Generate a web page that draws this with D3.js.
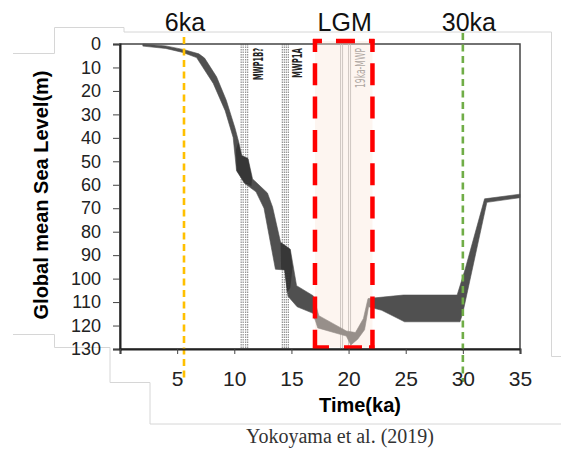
<!DOCTYPE html>
<html>
<head>
<meta charset="UTF-8" />
<style>
  body, html { margin: 0; padding: 0; background: #fff; overflow: hidden; }
  svg text { font-family: "Liberation Sans", Arial, sans-serif; }
</style>
</head>
<body>
<svg id="chart" width="561" height="449"></svg>
<script src="https://cdn.jsdelivr.net/npm/d3@7/dist/d3.min.js"></script>
<script>
// ---- data (age in ka, depth below present in m) ----
const xTicks = [0, 5, 10, 15, 20, 25, 30, 35];
const yTicks = [0, 10, 20, 30, 40, 50, 60, 70, 80, 90, 100, 110, 120, 130];

// shallow edge of the sea-level envelope
const upperEdge = [
  [2.0, 0], [4.0, 0.8], [5.6, 2.4], [6.9, 4.2], [7.4, 6], [8.45, 14], [9.3, 24],
  [10.06, 35.8], [10.4, 42], [10.65, 47.5], [11.2, 48.8], [11.6, 57.5], [12.9, 63.5],
  [13.35, 69.5], [14.05, 84.5], [14.9, 87.5], [15.45, 103], [16.9, 107.3], [17.4, 115.8],
  [19.8, 122.3], [20.6, 123], [21.3, 117], [21.7, 108.5], [24.8, 107], [29.5, 107],
  [30.2, 96], [31.9, 66], [35, 64]
];
// deep edge of the sea-level envelope
const lowerEdge = [
  [2.0, 0.9], [4.0, 1.9], [5.5, 3.6], [6.7, 5.8], [8.16, 16.8], [9.2, 28.4], [9.9, 39.8],
  [10.2, 54], [10.9, 59.4], [11.9, 63], [12.6, 70], [13.6, 96], [14.4, 96.3], [14.7, 107.5],
  [15.5, 112], [16.9, 114.8], [17.3, 121], [19.8, 124.5], [20.2, 128.3], [20.8, 125.8],
  [21.4, 121.8], [21.75, 112], [22.9, 113.5], [24.9, 118.4], [29.75, 118.4], [30.0, 114.5],
  [32.1, 67.5], [35, 65.5]
];
// darker overlapping patches of the envelope
const darkPatchA = [[10.35, 42], [10.65, 47.5], [11.2, 48.8], [11.55, 57], [11.5, 60.5], [10.9, 59.4], [10.2, 54], [10.15, 45]];
const darkPatchB = [[14.05, 84.5], [14.9, 87.5], [15.1, 95], [14.9, 104], [14.6, 106], [14.4, 96.3], [14.1, 96]];

// meltwater pulse markers
const mwpLabels = ["MWP1B?", "MWP1A", "19ka-MWP"];
const mwpLines = [[10.6, 11.0], [14.2, 14.55], [19.3, 20.0]];
const mwpLabelAge = [12.5, 15.95, 21.4];
const mwpLabelLen = [32, 30, 40];

// highlighted periods
const markerLabels = ["6ka", "30ka"];
const markerAges = [5.6, 30.0];
const markerColors = ["#ffc000", "#70ad47"];
const lgmRange = [17.06, 22.09];

// ---- layout ----
const svg = d3.select("#chart");
const x = d3.scaleLinear().domain([0, 35]).range([120, 520]);
const y = d3.scaleLinear().domain([0, 130]).range([44, 349]);

// faint outline left over from the pasted figure
const ghost = svg.append("g").attr("fill", "none").attr("stroke", "#d6d6d6").attr("stroke-width", 1);
ghost.append("path").attr("d", "M13,53.5H54.5V27.5H124V32H551.5V356.5H561");
ghost.append("path").attr("d", "M13,334.5H54.5V347.5H110V382.5H150V424H561");

// plot frame
svg.append("rect")
  .attr("x", x(0)).attr("y", y(0))
  .attr("width", x(35) - x(0)).attr("height", y(130) - y(0))
  .attr("fill", "#fff").attr("stroke", "#444").attr("stroke-width", 1.5);

// MWP dotted line pairs
const mwp = svg.append("g");
mwpLines.forEach((pair, i) => {
  pair.forEach(a => {
    [0, 2].forEach(off => {
      mwp.append("line")
        .attr("x1", x(a) + off).attr("x2", x(a) + off)
        .attr("y1", y(0)).attr("y2", y(130))
        .attr("stroke", i === 2 ? "#999" : "#555")
        .attr("stroke-width", 0.8)
        .attr("stroke-dasharray", i === 2 ? null : "1.5,1");
    });
  });
  mwp.append("text")
    .attr("transform", `translate(${x(mwpLabelAge[i])},${y(0) + 4}) rotate(-90)`)
    .attr("text-anchor", "end")
    .attr("textLength", mwpLabelLen[i])
    .attr("lengthAdjust", "spacingAndGlyphs")
    .style("font-family", '"Liberation Sans Narrow", "DejaVu Sans Condensed", sans-serif')
    .style("font-size", "14px")
    .style("font-weight", i === 2 ? "normal" : "bold")
    .attr("fill", i === 2 ? "#777" : "#222")
    .text(mwpLabels[i]);
});

// sea-level envelope
const line = d3.line().x(d => x(d[0])).y(d => y(d[1]));
svg.append("path")
  .attr("d", line(upperEdge.concat(lowerEdge.slice().reverse())) + "Z")
  .attr("fill", "#505050").attr("stroke", "#505050").attr("stroke-width", 0.6);
[darkPatchA, darkPatchB].forEach(p => {
  svg.append("path").attr("d", line(p) + "Z").attr("fill", "#222").attr("opacity", 0.55);
});

// LGM box
const lx0 = x(lgmRange[0]), lx1 = x(lgmRange[1]);
const ly0 = y(0) - 3, ly1 = y(130) - 1.5;
svg.append("rect")
  .attr("x", lx0).attr("y", ly0).attr("width", lx1 - lx0).attr("height", ly1 - ly0)
  .attr("fill", "rgb(250,232,220)").attr("fill-opacity", 0.42);
const red = svg.append("g").attr("stroke", "#ff0000").attr("stroke-width", 4.5).attr("fill", "none");
red.append("line").attr("x1", lx0).attr("x2", lx0).attr("y1", ly0 - 2).attr("y2", ly1 + 2)
  .attr("stroke-dasharray", "22 11.3").attr("stroke-dashoffset", 9);
red.append("line").attr("x1", lx1).attr("x2", lx1).attr("y1", ly0 - 2).attr("y2", ly1 + 2)
  .attr("stroke-dasharray", "22 11.3").attr("stroke-dashoffset", 9);
red.append("line").attr("x1", lx0 - 2).attr("x2", lx1 + 2).attr("y1", ly0).attr("y2", ly0)
  .attr("stroke-dasharray", "19 14").attr("stroke-dashoffset", 10);
red.append("line").attr("x1", lx0 - 2).attr("x2", lx1 + 2).attr("y1", ly1).attr("y2", ly1)
  .attr("stroke-dasharray", "16 15 18 7 12");

// 6ka / 30ka markers
markerAges.forEach((a, i) => {
  svg.append("line")
    .attr("x1", x(a)).attr("x2", x(a))
    .attr("y1", i === 0 ? 37 : 33).attr("y2", 382)
    .attr("stroke", markerColors[i]).attr("stroke-width", 2.6)
    .attr("stroke-dasharray", "7,4.5");
});

// axes
const yAxis = svg.append("g")
  .attr("transform", `translate(${x(0)},0)`)
  .call(d3.axisLeft(y).tickValues(yTicks).tickSize(7).tickPadding(12));
yAxis.selectAll("text").style("font-size", "18px").attr("fill", "#222");

const xAxis = svg.append("g")
  .attr("transform", `translate(0,${y(130)})`)
  .call(d3.axisBottom(x).tickValues(xTicks).tickSize(5).tickPadding(17)
    .tickFormat(d => d === 0 ? "" : d));
xAxis.selectAll("text").style("font-size", "21px").attr("fill", "#222");

[yAxis, xAxis].forEach(g => {
  g.select(".domain").attr("stroke", "#222").attr("stroke-width", 2);
  g.selectAll(".tick line").attr("stroke", "#444");
});

// titles
svg.append("text")
  .attr("transform", "translate(48,195) rotate(-90)")
  .attr("text-anchor", "middle")
  .style("font-size", "20px").style("font-weight", "bold")
  .text("Global mean Sea Level(m)");

svg.append("text")
  .attr("x", 360).attr("y", 412)
  .attr("text-anchor", "middle")
  .style("font-size", "20px").style("font-weight", "bold")
  .text("Time(ka)");

svg.append("text")
  .attr("x", 340).attr("y", 443)
  .attr("text-anchor", "middle")
  .style("font-family", '"Liberation Serif", "Times New Roman", serif')
  .style("font-size", "20px").attr("fill", "#333")
  .text("Yokoyama et al. (2019)");

// top labels
const topLabels = markerLabels.slice(0, 1).concat(["LGM"], markerLabels.slice(1));
const topAges = [markerAges[0], (lgmRange[0] + lgmRange[1]) / 2, markerAges[1]];
topLabels.forEach((t, i) => {
  svg.append("text")
    .attr("x", x(topAges[i]) + (i === 2 ? 6 : 1)).attr("y", 31)
    .attr("text-anchor", "middle")
    .style("font-size", "25px").attr("fill", "#111")
    .text(t);
});
</script>
</body>
</html>
